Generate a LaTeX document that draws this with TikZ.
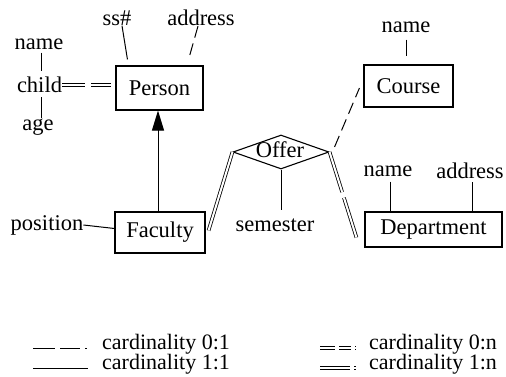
\documentclass[tikz,border=0pt]{standalone}
\usepackage{fontspec}
\setmainfont{Liberation Serif}
\usetikzlibrary{shapes.geometric,arrows.meta,calc}
\newcommand\diagfont{\fontsize{22.5}{25}\selectfont}
\newcommand\keyfont{\fontsize{22}{24}\selectfont}
\begin{document}
\begin{tikzpicture}[x=1pt,y=-1pt,
  ent/.style={draw,line width=1.1pt,inner sep=0pt,font=\diagfont},
  lbl/.style={inner sep=0pt,font=\diagfont},
  keylbl/.style={inner sep=0pt,font=\keyfont,anchor=west},
  ln/.style={line width=1pt},
  dsh/.style={line width=1pt,dash pattern=on 12pt off 6pt},
  dbl/.style={line width=0.8pt,double,double distance=2pt},
  ]
\useasboundingbox[fill=white] (0,0) rectangle (506,377);

% entities
\node[ent,minimum width=87pt,minimum height=44pt] (person) at (159.5,88) {Person};
\node[ent,minimum width=90pt,minimum height=41pt] (faculty) at (160,232.5) {Faculty};
\node[ent,minimum width=89pt,minimum height=42pt] (course) at (408.5,86) {Course};
\node[ent,minimum width=137pt,minimum height=35pt] (department) at (433.5,229.5) {Department};
\node[draw,diamond,line width=1.1pt,minimum width=96pt,minimum height=34pt,inner sep=0pt] (offer) at (281,152) {};
\node[lbl] (offertext) at (280,150) {Offer};

% attributes
\node[lbl] (ss) at (117,18) {ss\#};
\node[lbl] (address) at (201,18) {address};
\node[lbl] (name1) at (39,44) {name};
\node[lbl] (child) at (39.5,85) {child};
\node[lbl] (age) at (38,127.5) {age};
\node[lbl] (position) at (47,225) {position};
\node[lbl] (semester) at (275,225) {semester};
\node[lbl] (cname) at (406,27) {name};
\node[lbl] (dname) at (388,171) {name};
\node[lbl] (daddr) at (470,170.5) {address};

% connectors
\draw[ln] ([xshift=5pt]ss.south) -- ([xshift=12pt,yshift=6pt]person.north west);
\draw[dsh] ([xshift=-3pt]address.south) -- ([xshift=-15pt,yshift=6pt]person.north east);
\draw[ln] ([xshift=2pt,yshift=-3pt]name1.south) -- ([xshift=1.5pt,yshift=6pt]child.north);
\draw[ln] ([xshift=1.5pt,yshift=-4pt]child.south) -- ([xshift=3pt,yshift=1pt]age.north);
\draw[dbl,dash pattern=on 23pt off 6pt,shorten >=4pt] (child.east) -- (child.east -| person.west);
\draw[ln,-{Triangle[length=20pt,width=12pt]}] ([xshift=-2pt]faculty.north) -- ([xshift=-2pt]faculty.north |- person.south);
\draw[ln] (position.east) -- ([yshift=4pt]faculty.west);
\draw[dbl] (offer.west) -- ([xshift=3pt,yshift=2pt]faculty.east);
\draw[dbl,dash pattern=on 42pt off 6pt] (offer.east) -- ([xshift=-8pt,yshift=-8pt]department.west);
\draw[dsh] ([xshift=5pt,yshift=5pt]offer.east) -- ([xshift=-4pt,yshift=-2pt]course.west);
\draw[ln] (offer.south) -- ([yshift=8pt]offer.south |- semester.north);
\draw[ln,shorten <=7pt,shorten >=8pt] (cname.south) -- (cname.south |- course.north);
\draw[ln,shorten <=5pt] ([xshift=2pt]dname.south) -- ([xshift=2pt]dname.south |- department.north);
\draw[ln,shorten <=3.5pt] ([xshift=2pt]daddr.south) -- ([xshift=2pt]daddr.south |- department.north);

% legend
\coordinate (k1a) at (33,348);
\coordinate (k1b) at (88,348);
\coordinate (k2a) at (33,368);
\coordinate (k2b) at (88,368);
\coordinate (k3a) at (320,348);
\coordinate (k3b) at (356,348);
\coordinate (k4a) at (320,368);
\coordinate (k4b) at (356,368);
\draw[ln,dash pattern=on 22pt off 5pt on 20pt off 5pt on 1.5pt off 20pt] (k1a) -- (k1b);
\draw[ln] (k2a) -- (k2b);
\draw[dbl,dash pattern=on 15pt off 4pt on 12pt off 4pt on 1.5pt off 20pt] (k3a) -- (k3b);
\draw[dbl,dash pattern=on 30pt off 4pt on 1.5pt off 20pt] (k4a) -- (k4b);
\node[keylbl] (k1t) at (102,344.5) {cardinality 0:1};
\node[keylbl] (k2t) at (102,364.5) {cardinality 1:1};
\node[keylbl] (k3t) at (369,344.5) {cardinality 0:n};
\node[keylbl] (k4t) at (369,364.5) {cardinality 1:n};
\end{tikzpicture}
\end{document}
